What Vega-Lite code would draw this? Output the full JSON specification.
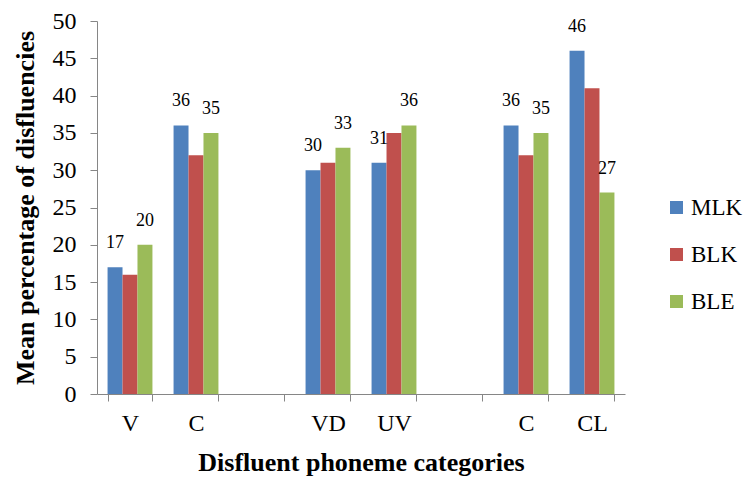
{
  "$schema": "https://vega.github.io/schema/vega-lite/v6.json",
  "autosize": "none",
  "width": 528,
  "height": 373,
  "padding": {"left": 97, "top": 21, "right": 121, "bottom": 83},
  "background": "white",
  "config": {
    "view": {"stroke": null},
    "font": "Liberation Serif"
  },
  "data": {
    "values": [
      {"cat": "V", "series": "MLK", "value": 17},
      {"cat": "V", "series": "BLK", "value": 16},
      {"cat": "V", "series": "BLE", "value": 20},
      {"cat": "C1", "series": "MLK", "value": 36},
      {"cat": "C1", "series": "BLK", "value": 32},
      {"cat": "C1", "series": "BLE", "value": 35},
      {"cat": "VD", "series": "MLK", "value": 30},
      {"cat": "VD", "series": "BLK", "value": 31},
      {"cat": "VD", "series": "BLE", "value": 33},
      {"cat": "UV", "series": "MLK", "value": 31},
      {"cat": "UV", "series": "BLK", "value": 35},
      {"cat": "UV", "series": "BLE", "value": 36},
      {"cat": "C2", "series": "MLK", "value": 36},
      {"cat": "C2", "series": "BLK", "value": 32},
      {"cat": "C2", "series": "BLE", "value": 35},
      {"cat": "CL", "series": "MLK", "value": 46},
      {"cat": "CL", "series": "BLK", "value": 41},
      {"cat": "CL", "series": "BLE", "value": 27}
    ]
  },
  "encoding": {
    "x": {
      "field": "cat",
      "type": "nominal",
      "scale": {
        "domain": ["V", "C1", "g1", "VD", "UV", "g2", "C2", "CL"],
        "paddingInner": 0.32,
        "paddingOuter": 0.16
      },
      "axis": {
        "title": "Disfluent phoneme categories",
        "titleFont": "Liberation Serif",
        "titleFontSize": 26,
        "titleFontWeight": "bold",
        "titleColor": "black",
        "titlePadding": 14,
        "labelAngle": 0,
        "labelFont": "Liberation Serif",
        "labelFontSize": 24,
        "labelColor": "black",
        "labelPadding": 10,
        "labelExpr": "datum.label == 'C1' || datum.label == 'C2' ? 'C' : (datum.label == 'g1' || datum.label == 'g2' ? '' : datum.label)",
        "tickBand": "extent",
        "tickSize": 7,
        "tickColor": "#868686",
        "domainColor": "#868686",
        "grid": false
      }
    },
    "xOffset": {
      "field": "series",
      "type": "nominal",
      "scale": {"domain": ["MLK", "BLK", "BLE"], "padding": 0}
    },
    "y": {
      "field": "value",
      "type": "quantitative",
      "scale": {"domain": [0, 50], "nice": false},
      "axis": {
        "title": "Mean percentage of disfluencies",
        "titleFont": "Liberation Serif",
        "titleFontSize": 26,
        "titleFontWeight": "bold",
        "titleColor": "black",
        "titlePadding": 14,
        "values": [0, 5, 10, 15, 20, 25, 30, 35, 40, 45, 50],
        "labelFont": "Liberation Serif",
        "labelFontSize": 24,
        "labelColor": "black",
        "labelPadding": 14,
        "tickSize": 7,
        "tickColor": "#868686",
        "domainColor": "#868686",
        "grid": false
      }
    }
  },
  "layer": [
    {
      "mark": {"type": "bar"},
      "encoding": {
        "color": {
          "field": "series",
          "type": "nominal",
          "scale": {"domain": ["MLK", "BLK", "BLE"], "range": ["#4F81BD", "#C0504D", "#9BBB59"]},
          "legend": {
            "title": null,
            "orient": "none",
            "legendX": 568,
            "legendY": 175,
            "symbolType": "square",
            "symbolSize": 169,
            "symbolStrokeWidth": 0,
            "labelFont": "Liberation Serif",
            "labelFontSize": 23,
            "labelColor": "black",
            "labelOffset": 3,
            "rowPadding": 23
          }
        }
      }
    },
    {
      "transform": [{"filter": "datum.series != 'BLK'"}],
      "mark": {"type": "text", "baseline": "middle", "dy": -24, "fontSize": 18, "font": "Liberation Serif", "color": "black"},
      "encoding": {
        "text": {"field": "value", "type": "quantitative"}
      }
    }
  ]
}
